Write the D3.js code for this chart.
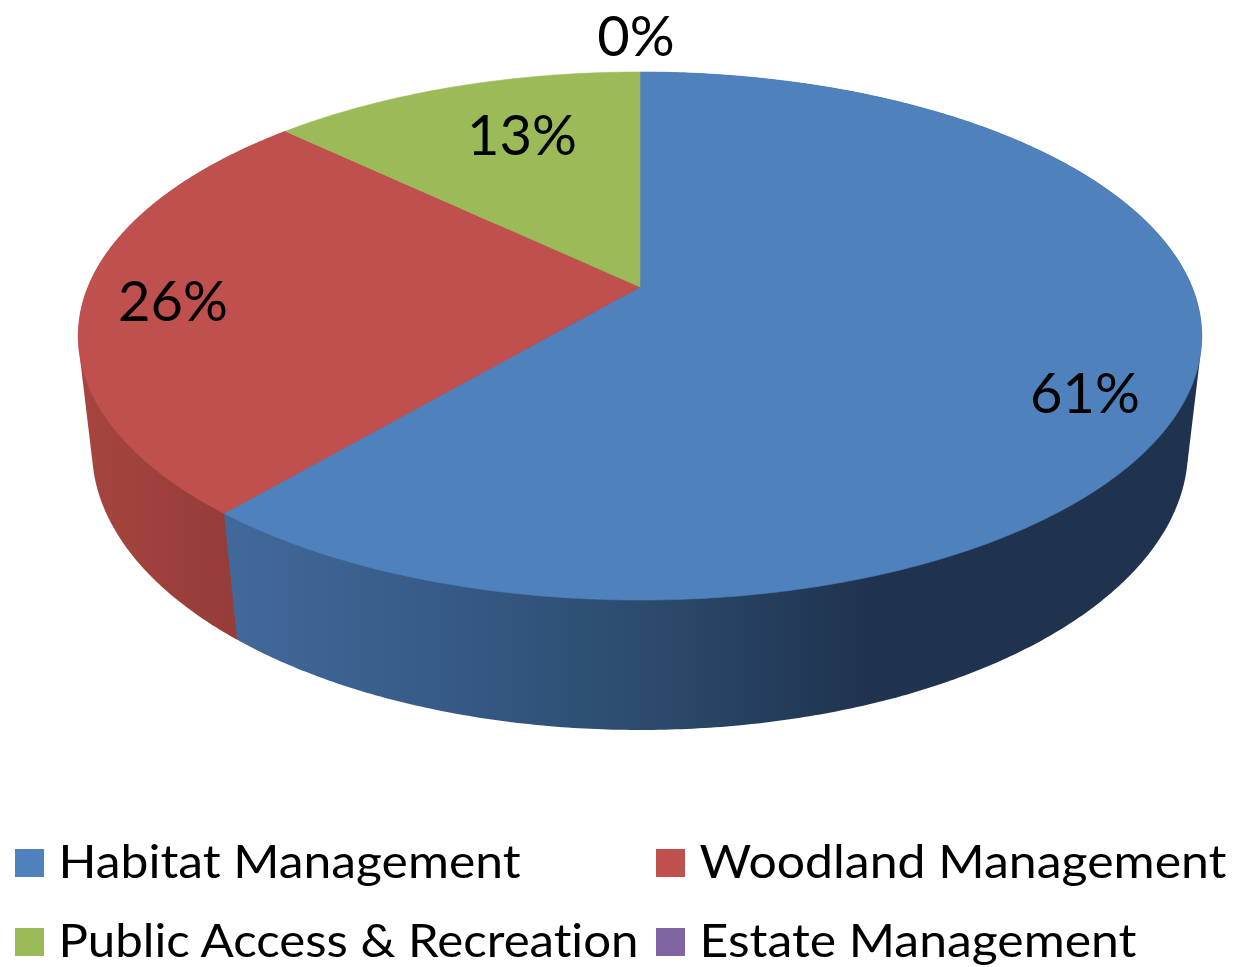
<!DOCTYPE html>
<html>
<head>
<meta charset="utf-8">
<style>
  html, body { margin: 0; padding: 0; background: #fff; overflow: hidden; }
  text { font-family: Lato, "Open Sans", sans-serif; fill: #000; font-variant-ligatures: none; }
</style>
<script src="https://cdn.jsdelivr.net/npm/d3@7/dist/d3.min.js"></script>
</head>
<body>
<div class="canvas"></div>
<script>
// chart data
const categories = ["Habitat Management", "Woodland Management", "Public Access & Recreation", "Estate Management"];
const shares = [61.2, 25.9, 12.9, 0];
const labels = ["61%", "26%", "13%", "0%"];
const colors = ["#4f81bd", "#c0504d", "#9bbb59", "#8064a2"];

const svgWidth = 1234, svgHeight = 967;

// perspective of the top and bottom discs of the 3D pie
const topDisc = { y0: 287, a: 254.9, b: 552, k: -0.1856 };
const bottomDisc = { y0: 401, a: 271.4, b: 539.5, k: -0.175 };

function project(disc, angle) {
  const u = Math.sin(angle), v = -Math.cos(angle);
  const w = 1 + disc.k * v;
  return [640 + disc.b * u / w, disc.y0 + disc.a * v / w];
}

// points along an arc, one per half degree
function arcPoints(disc, start, end) {
  const n = Math.max(1, Math.ceil((end - start) / (Math.PI / 360)));
  return d3.range(n + 1).map(i => project(disc, start + (end - start) * i / n));
}

const svg = d3.select(".canvas").append("svg")
  .attr("width", svgWidth)
  .attr("height", svgHeight)
  .style("display", "block");

const arcs = d3.pie().sort(null).value(d => d)(shares);

// side wall shading runs left to right
const defs = svg.append("defs");
const wallStops = [
  [[0, "#41699a"], [0.35, "#365a86"], [0.7, "#2a4869"], [1, "#1f334e"]],
  [[0, "#a6453f"], [1, "#963c39"]]
];
const wallRange = [[226, 870], [80, 232]];
wallStops.forEach((stops, i) => {
  const grad = defs.append("linearGradient")
    .attr("id", "wall" + i)
    .attr("gradientUnits", "userSpaceOnUse")
    .attr("x1", wallRange[i][0]).attr("x2", wallRange[i][1])
    .attr("y1", 0).attr("y2", 0);
  stops.forEach(s => grad.append("stop").attr("offset", s[0]).attr("stop-color", s[1]));
});

// walls, back to front. the top faces cover the part that should not show
const line = d3.line();
[1, 0].forEach(i => {
  const d = arcs[i];
  const pts = arcPoints(topDisc, d.startAngle, d.endAngle)
    .concat(arcPoints(bottomDisc, d.startAngle, d.endAngle));
  svg.append("path")
    .attr("d", line(d3.polygonHull(pts)) + "Z")
    .attr("fill", `url(#wall${i})`);
});

// top faces, thin stroke closes the seam between neighbours
svg.selectAll(".slice")
  .data(arcs.filter(d => d.value > 0))
  .join("path")
  .attr("class", "slice")
  .attr("d", d => line([[640, topDisc.y0]].concat(arcPoints(topDisc, d.startAngle, d.endAngle))) + "Z")
  .attr("fill", (d, i) => colors[i])
  .attr("stroke", (d, i) => colors[i])
  .attr("stroke-width", 0.6);

// data labels
const labelX = [1085, 173, 522, 636];
const labelY = [413, 321, 155, 55.5];
svg.selectAll(".pct")
  .data(labels)
  .join("text")
  .attr("class", "pct")
  .attr("x", (d, i) => labelX[i])
  .attr("y", (d, i) => labelY[i])
  .attr("text-anchor", "middle")
  .attr("font-size", 56)
  .text(d => d);

// legend
const legendX = [15, 656, 15, 656];
const legendY = [849, 849, 928, 928];
const legendTextWidth = [462, 527, 580, 437];
const legend = svg.selectAll(".legend")
  .data(categories)
  .join("g")
  .attr("class", "legend")
  .attr("transform", (d, i) => `translate(${legendX[i]},${legendY[i]})`);

legend.append("rect")
  .attr("width", 29)
  .attr("height", 28)
  .attr("fill", (d, i) => colors[i]);

legend.append("text")
  .attr("x", 43.5)
  .attr("y", 29)
  .attr("font-size", 47)
  .attr("textLength", (d, i) => legendTextWidth[i])
  .attr("lengthAdjust", "spacingAndGlyphs")
  .text(d => d);
</script>
</body>
</html>
